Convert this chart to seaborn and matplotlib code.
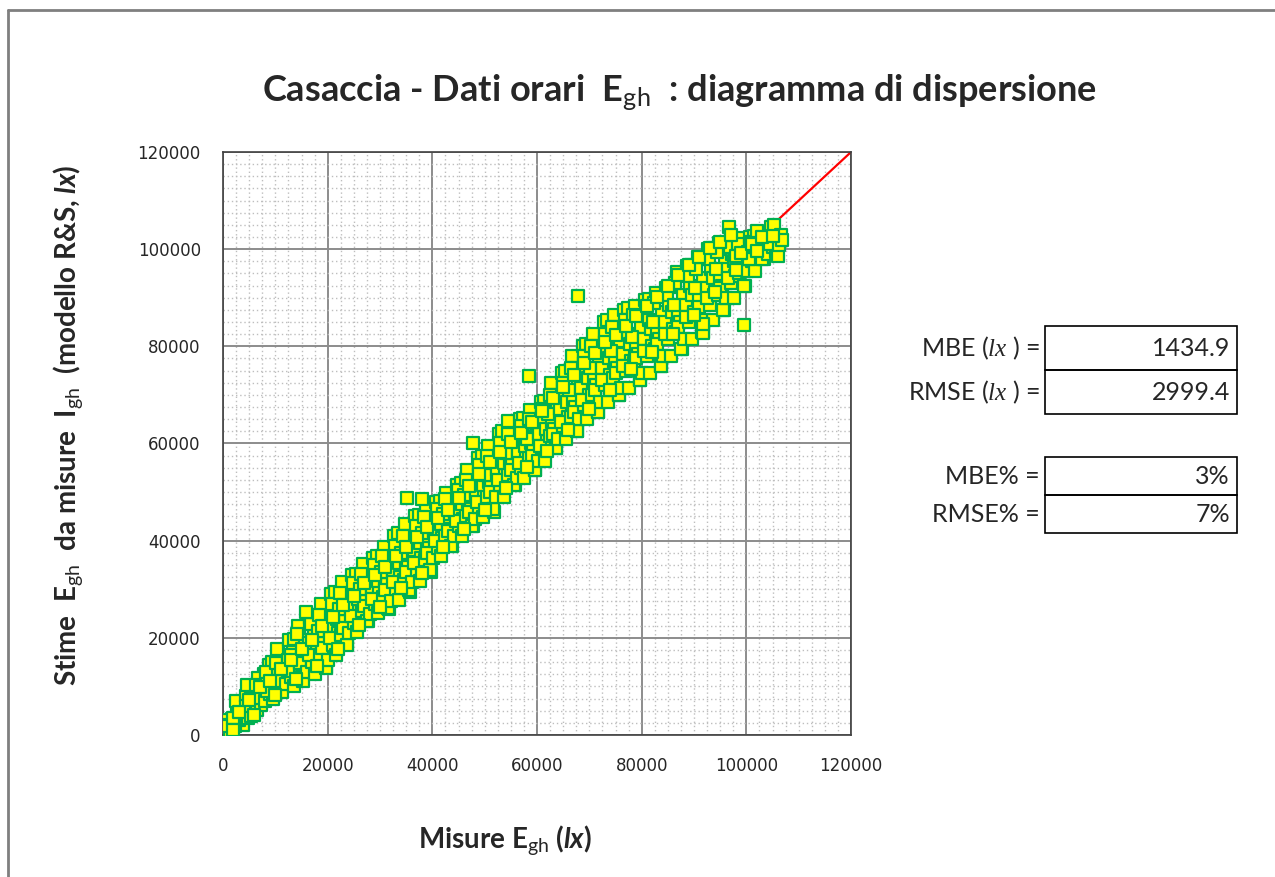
import numpy as np
import pandas as pd
import matplotlib
matplotlib.use("Agg")
import matplotlib.pyplot as plt
from matplotlib.lines import Line2D
from matplotlib.patches import Rectangle
from matplotlib.ticker import MultipleLocator, FuncFormatter
import seaborn as sns

# ---------------- data (lx) ----------------
misure = [
    300, 700, 1100, 1500, 1800, 900, 1300, 500,
    3300, 2600, 3900, 3700, 3400, 3100, 2800, 2500, 2200,
    4100, 4400, 4700, 5000, 5300, 5600, 5900, 4600, 5400, 4300,
    6300, 7200, 6500, 7900, 7600, 7300, 7000, 6700, 6400, 6100,
    8100, 8400, 8700, 9000, 9300, 9600, 9900, 8500, 9400, 8200,
    10900, 11500, 10500, 11900, 11600, 11300, 11000, 10700, 10400, 10100,
    12100, 12400, 12700, 13000, 13300, 13600, 13900, 12500, 13500, 12900,
    15000, 15400, 14500, 15900, 15600, 15300, 15000, 14700, 14400, 14100,
    16100, 16400, 16700, 17000, 17300, 17600, 17900, 16500, 17400, 16900,
    19700, 18900, 19400, 18500, 19900, 19600, 19300, 19000, 18700, 18400, 18100,
    20100, 20400, 20700, 21000, 21300, 21600, 21900, 20500, 21400, 20900, 21700,
    23700, 22900, 23400, 22500, 23900, 23600, 23300, 23000, 22700, 22400, 22100,
    24100, 24400, 24700, 25000, 25300, 25600, 25900, 24500, 25400, 24900, 25700,
    27700, 26900, 27400, 26500, 27900, 27600, 27300, 27000, 26700, 26400, 26100,
    28100, 28400, 28700, 29000, 29300, 29600, 29900, 28500, 29400, 28900, 29700,
    31700, 30900, 31400, 30500, 31900, 31600, 31300, 31000, 30700, 30400, 30100,
    32100, 32400, 32700, 33000, 33300, 33600, 33900, 32500, 33400, 32900, 33700,
    35700, 34900, 35400, 34500, 35900, 35600, 35300, 35000, 34700, 34400, 34100,
    36100, 36400, 36700, 37000, 37300, 37600, 37900, 36500, 37400, 36900, 37700,
    39700, 38900, 39400, 38500, 39900, 39600, 39300, 39000, 38700, 38400, 38100,
    40100, 40400, 40700, 41000, 41300, 41600, 41900, 40500, 41400, 40900, 41700,
    43700, 42900, 43400, 42500, 43900, 43600, 43300, 43000, 42700, 42400, 42100,
    44100, 44400, 44700, 45000, 45300, 45600, 45900, 44500, 45400, 44900, 45700,
    47700, 46900, 47400, 46500, 47900, 47600, 47300, 47000, 46700, 46400, 46100,
    48100, 48400, 48700, 49000, 49300, 49600, 49900, 48500, 49400, 48900, 49700,
    51700, 50900, 51400, 50500, 51900, 51600, 51300, 51000, 50700, 50400, 50100,
    52100, 52400, 52700, 53000, 53300, 53600, 53900, 52500, 53400, 52900, 53700,
    55700, 54900, 55400, 54500, 55900, 55600, 55300, 55000, 54700, 54400, 54100,
    56100, 56400, 56700, 57000, 57300, 57600, 57900, 56500, 57400, 56900, 57700,
    59700, 58900, 59400, 58500, 59900, 59600, 59300, 59000, 58700, 58400, 58100,
    60100, 60400, 60700, 61000, 61300, 61600, 61900, 60500, 61400, 60900, 61700,
    63700, 62900, 63400, 62500, 63900, 63600, 63300, 63000, 62700, 62400, 62100,
    64100, 64400, 64700, 65000, 65300, 65600, 65900, 64500, 65400, 64900, 65700,
    67700, 66900, 67400, 66500, 67900, 67600, 67300, 67000, 66700, 66400, 66100,
    68100, 68400, 68700, 69000, 69300, 69600, 69900, 68500, 69400, 68900, 69700,
    71700, 70900, 71400, 70500, 71900, 71600, 71300, 71000, 70700, 70400, 70100,
    72100, 72400, 72700, 73000, 73300, 73600, 73900, 72500, 73400, 72900, 73700,
    75700, 74900, 75400, 74500, 75900, 75600, 75300, 75000, 74700, 74400, 74100,
    76100, 76400, 76700, 77000, 77300, 77600, 77900, 76500, 77400, 76900, 77700,
    79700, 78900, 79400, 78500, 79900, 79600, 79300, 79000, 78700, 78400, 78100,
    80100, 80400, 80700, 81000, 81300, 81600, 81900, 80500, 81400, 80900, 81700,
    83700, 82900, 83400, 82500, 83900, 83600, 83300, 83000, 82700, 82400, 82100,
    84100, 84400, 84700, 85000, 85300, 85600, 85900, 84500, 85400, 84900, 85700,
    87700, 86900, 87400, 86500, 87900, 87600, 87300, 87000, 86700, 86400, 86100,
    88100, 88400, 88700, 89000, 89300, 89600, 89900, 88500, 89400, 88900, 89700,
    91700, 90900, 91400, 90500, 91800, 91600, 91300, 91000, 90700, 90400, 90100,
    92100, 92400, 92700, 93000, 93300, 93600, 93900, 92500, 93400, 92900, 93700,
    95700, 94900, 95400, 94500, 95900, 95600, 95300, 95000, 94700, 94400, 94100,
    96100, 96400, 96700, 97000, 97300, 97600, 97900, 96500, 97400, 96900, 97700,
    99700, 98900, 99400, 98500, 99900, 99600, 99300, 99000, 98700, 98400, 98100,
    100100, 100400, 100700, 101000, 101300, 101600, 101900, 100500, 101400, 100900, 101700,
    103400, 102500, 103900, 103600, 103300, 103000, 102700, 102400, 102100,
    104100, 104400, 104700, 105000, 105300, 105600, 105900, 104500, 105200,
    106100, 106600, 106300, 106800,
    15900, 35100, 38000, 47800, 54500, 58500, 67900, 96700, 99600, 91800, 91800,
    # second pass, points between the rows above
    1000, 2000, 3000, 5000, 7000, 9000, 11000, 13000, 15000, 17000,
    19000, 21000, 23000, 25000, 27000, 29000, 31000, 33000, 35000, 37000,
    39000, 41000, 43000, 45000, 47000, 49000, 51000, 53000, 55000, 57000,
    59000, 61000, 63000, 65000, 67000, 69000, 71000, 73000, 75000, 77000,
    79000, 81000, 83000, 85000, 87000, 89000, 91000, 93000, 95000, 97000,
    99000, 101000, 103000, 105000,
    2000, 6000, 10000, 14000, 18000, 22000, 26000, 30000, 34000, 38000,
    42000, 46000, 50000, 54000, 58000, 62000, 66000, 70000, 74000, 78000,
    82000, 86000, 90000, 94000, 98000, 102000,
]
stime = [
    800, 1500, 2200, 1400, 3200, 3000, 600, 2000,
    3000, 5500, 2000, 4200, 6800, 3000, 5200, 7000, 1900,
    4500, 8000, 3600, 6500, 9800, 5000, 7500, 10200, 4000, 6000,
    6000, 9500, 5200, 12500, 8000, 6200, 10500, 11800, 10200, 7600,
    7000, 11000, 14500, 8500, 12500, 7500, 10000, 9000, 15000, 13000,
    9000, 13500, 17000, 10500, 15000, 8800, 12500, 11200, 17800, 14800,
    10500, 15500, 19500, 12000, 17000, 10000, 14000, 13200, 19800, 16500,
    12000, 17500, 22000, 13500, 19500, 11200, 16000, 14800, 22500, 20800,
    13000, 19000, 24000, 15000, 21500, 12500, 17500, 16500, 24800, 22800,
    14000, 20500, 26000, 16500, 23000, 13800, 19000, 18000, 27000, 24800, 21500,
    15500, 22500, 29000, 18500, 25500, 16500, 21000, 20000, 29500, 27000, 23800,
    18800, 24500, 31000, 20500, 27500, 18500, 23500, 22000, 31500, 29200, 26000,
    21000, 26500, 33000, 23000, 29500, 21200, 25500, 24500, 33200, 31200, 28000,
    23500, 28500, 35000, 25500, 31500, 23500, 27500, 26500, 35200, 33200, 30000,
    25000, 30500, 36500, 27000, 33500, 25200, 29500, 28000, 36800, 35000, 31800,
    26000, 32000, 38500, 28500, 35000, 26200, 31000, 29800, 38800, 36800, 33500,
    27500, 34000, 41000, 30000, 37000, 27800, 32500, 31500, 41500, 39000, 35500,
    29500, 36000, 43000, 32000, 39000, 29800, 34500, 33500, 43500, 41000, 37500,
    31500, 38000, 45000, 34000, 41000, 31800, 36500, 35500, 45200, 43000, 39500,
    33500, 40000, 46500, 36000, 43000, 34000, 38500, 37500, 46800, 44800, 41500,
    36500, 42000, 48000, 38500, 45000, 36800, 40500, 40000, 48200, 46500, 43500,
    39000, 44000, 49500, 41000, 47000, 39000, 42500, 42000, 49800, 48500, 45500,
    41000, 46000, 51500, 43000, 49000, 41000, 44500, 44000, 51800, 50500, 47500,
    43000, 48000, 54000, 45000, 51000, 43000, 46500, 46000, 54500, 52500, 49500,
    44500, 50000, 57000, 47000, 53500, 44800, 49000, 48000, 57500, 55500, 51500,
    46000, 52000, 59000, 49000, 55500, 46500, 51000, 50000, 59500, 57500, 53500,
    49000, 54500, 62000, 51500, 58000, 49000, 53500, 52500, 62500, 60000, 56000,
    51500, 56500, 63500, 53500, 60000, 51500, 55500, 54500, 63800, 62000, 58000,
    53000, 58000, 65000, 55000, 61500, 53000, 57000, 56000, 65200, 63500, 59500,
    54500, 60000, 66500, 57000, 63000, 54500, 58500, 57500, 66800, 65000, 61000,
    56500, 62000, 68500, 59000, 65000, 56500, 60500, 59500, 68800, 67000, 63000,
    59000, 64500, 72000, 61500, 68000, 59000, 63000, 62000, 72500, 70000, 66000,
    61000, 67000, 74500, 63500, 70500, 61000, 65500, 64500, 75000, 72500, 68500,
    62500, 69000, 77500, 65500, 73000, 62500, 67500, 66500, 78000, 75500, 71000,
    65000, 71500, 80000, 68000, 75500, 65000, 70000, 69000, 80500, 78000, 73500,
    66500, 73500, 82000, 70000, 77500, 66500, 72000, 71000, 82500, 80000, 75500,
    68500, 75500, 85000, 72000, 79500, 68500, 74000, 73000, 85500, 82500, 77500,
    70000, 77000, 86000, 73500, 81000, 70000, 75500, 74500, 86500, 84000, 79000,
    71500, 78500, 87500, 75000, 82500, 71500, 77000, 76000, 87800, 85500, 80500,
    73000, 80000, 88000, 76500, 84000, 73000, 78500, 77500, 88300, 86500, 82000,
    74500, 81500, 89500, 78000, 85500, 74500, 80000, 79000, 89800, 88000, 83500,
    76000, 83000, 90500, 79500, 87000, 76000, 81500, 80500, 91000, 89000, 85000,
    78000, 85000, 92000, 81500, 88500, 78000, 83500, 82500, 92300, 90500, 87000,
    79500, 86500, 95000, 83000, 90500, 79500, 85000, 84000, 95300, 93000, 88500,
    81500, 88500, 96500, 85000, 92500, 81500, 87000, 86000, 96800, 94500, 90500,
    83000, 90000, 98000, 86500, 94000, 83000, 85000, 88000, 98300, 96000, 92000,
    85500, 92000, 100000, 88500, 96000, 85500, 90500, 90000, 100300, 98000, 94000,
    87500, 94000, 101000, 90500, 97500, 87500, 92500, 92000, 101300, 99500, 96000,
    90000, 96000, 101500, 93000, 99000, 90000, 94500, 94000, 101800, 100500, 97500,
    92500, 97500, 102000, 95000, 100000, 92500, 96500, 96000, 102300, 101000, 98500,
    95500, 99500, 102500, 97500, 101000, 95500, 99000, 98000, 102800, 101500, 100500,
    98000, 101000, 103500, 99500, 102000, 98000, 100500, 100000, 103800,
    99000, 102000, 104500, 100500, 103000, 99500, 101500, 101000, 105000,
    98500, 102900, 100800, 101800,
    25300, 48700, 48500, 60200, 64700, 73800, 90400, 104500, 84300, 82700, 84600,
    1800, 3600, 4800, 7200, 9800, 11200, 13600, 15400, 17800, 19600,
    22400, 24200, 26800, 28600, 31200, 33000, 34600, 36800, 38800, 40800,
    42800, 44600, 46400, 48800, 51200, 53800, 56200, 58200, 60400, 62200,
    64400, 66600, 69400, 71600, 74200, 76600, 78600, 80800, 82400, 84200,
    86200, 88400, 90200, 92400, 94600, 96800, 98400, 100200, 101400, 103000,
    99200, 101000, 102600, 102800,
    1000, 4200, 8200, 11600, 14200, 17800, 22600, 26400, 30200, 33400,
    38600, 42400, 46400, 50800, 55200, 58400, 62800, 67200, 71000, 75400,
    78800, 82600, 86400, 91200, 95800, 99600,
]
linea_x = [0, 120000]
linea_y = [0, 120000]

mbe_lx = "1434.9"
rmse_lx = "2999.4"
mbe_pct = "3%"
rmse_pct = "7%"

df = pd.DataFrame({"Misure": misure, "Stime": stime})

# ---------------- style ----------------
sns.set_style("white")
plt.rcParams["font.family"] = ["Lato", "DejaVu Sans"]
plt.rcParams["mathtext.fontset"] = "custom"
plt.rcParams["mathtext.rm"] = "Lato"
plt.rcParams["mathtext.bf"] = "Lato:bold"
plt.rcParams["mathtext.it"] = "Lato:bold:italic"
plt.rcParams["mathtext.cal"] = "Liberation Serif:italic"

fig = plt.figure(figsize=(12.75, 8.77), dpi=100)
ax = fig.add_axes([0.1749, 0.1619, 0.4926, 0.6648])

ax.plot(linea_x, linea_y, color="#FF0000", lw=1.6, zorder=2)
sns.scatterplot(data=df, x="Misure", y="Stime", ax=ax, marker="s", s=66,
                color="#FFFF00", edgecolor="#00B050", linewidth=1.6,
                zorder=3, legend=False)

ax.set_xlim(0, 120000)
ax.set_ylim(0, 120000)
ax.xaxis.set_major_locator(MultipleLocator(20000))
ax.yaxis.set_major_locator(MultipleLocator(20000))
ax.xaxis.set_minor_locator(MultipleLocator(2500))
ax.yaxis.set_minor_locator(MultipleLocator(2500))
fmt = FuncFormatter(lambda v, p: f"{int(v)}")
ax.xaxis.set_major_formatter(fmt)
ax.yaxis.set_major_formatter(fmt)
ax.grid(which="major", color="#8C8C8C", lw=1.4, zorder=0)
ax.grid(which="minor", color="#BEBEBE", lw=1.0, ls=(0, (1, 2)), zorder=0)
ax.set_axisbelow(True)
ax.tick_params(axis="both", which="major", direction="out", length=6,
               width=1.2, color="#808080", labelsize=12, pad=10)
ax.tick_params(axis="both", which="minor", length=0)
for lab in ax.get_xticklabels() + ax.get_yticklabels():
    lab.set_fontfamily("DejaVu Sans")
for s in ax.spines.values():
    s.set_color("#404040")
    s.set_linewidth(1.2)
ax.set_xlabel("")
ax.set_ylabel("")

# ---------------- texts ----------------
fig.text(0.533, 0.894,
         r"Casaccia - Dati orari  $\mathbf{E}_{\mathrm{gh}}$  : diagramma di dispersione",
         ha="center", va="center", fontsize=26, fontweight="bold")
fig.text(0.396, 0.042, r"Misure $\mathbf{E}_{\mathrm{gh}}$ ($\mathit{lx}$)",
         ha="center", va="center", fontsize=20, fontweight="bold")
fig.text(0.053, 0.515,
         r"Stime  $\mathbf{E}_{\mathrm{gh}}$  da misure  $\mathbf{I}_{\mathrm{gh}}$  (modello R&S, $\mathit{lx}$)",
         ha="center", va="center", rotation=90, fontsize=20, fontweight="bold")

# ---------------- statistics table ----------------
bx0, bx1 = 1045 / 1275, 1237 / 1275
rows = [
    (326, 370, r"MBE ($\mathcal{lx}$ ) =", mbe_lx),
    (370, 414, r"RMSE ($\mathcal{lx}$ ) =", rmse_lx),
    (457, 495, "MBE% =", mbe_pct),
    (495, 533, "RMSE% =", rmse_pct),
]
for top, bot, lab, val in rows:
    y0 = 1 - bot / 877
    h = (bot - top) / 877
    fig.add_artist(Rectangle((bx0, y0), bx1 - bx0, h, transform=fig.transFigure,
                             fill=False, edgecolor="black", lw=1.2))
    yc = y0 + h / 2
    fig.text(1040 / 1275, yc, lab, ha="right", va="center", fontsize=18)
    fig.text(1230 / 1275, yc, val, ha="right", va="center", fontsize=18)

# outer frame (top and left edges visible)
fig.add_artist(Line2D([8 / 1275, 1], [1 - 10 / 877, 1 - 10 / 877],
                      transform=fig.transFigure, color="#7F7F7F", lw=2))
fig.add_artist(Line2D([8 / 1275, 8 / 1275], [0, 1 - 10 / 877],
                      transform=fig.transFigure, color="#7F7F7F", lw=2))

fig.savefig("out.png", dpi=100)
